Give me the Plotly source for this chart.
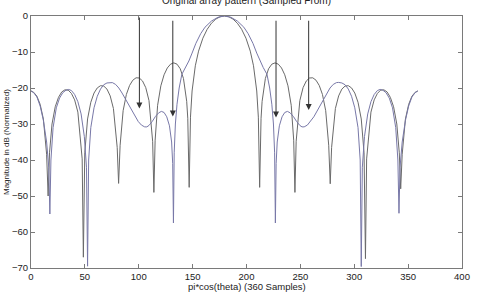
import plotly.graph_objects as go

# ---- data ----
A_x = [0, 2.5, 5.5, 8.5, 11.5, 14.5, 15.9, 17.2, 19.5, 22.5, 25.5, 28.5, 31.5, 34.5, 37.5, 40.5, 43.5,
       47.5, 48.6, 49.9, 52.5, 55.5, 58.5, 61.5, 64.5, 67.5, 70.5, 73.5, 76.5, 80, 81.3, 82.7, 85.5,
       88.5, 91.5, 94.5, 97.5, 100.5, 103.5, 106.5, 109.5, 112.9, 114.05, 115.2, 117.5, 120.5, 123.5,
       126.5, 129.5, 132.5, 135.5, 138.5, 141.5, 144.5, 145.5, 146.8, 148, 149.5, 152.5, 155.5, 159.5,
       163.5, 167.5, 171.5, 175.5, 179.5,
       183.5, 187.5, 191.5, 195.5, 199.5, 203.5, 206.5, 209.5, 211, 212.2, 213.5, 214.5, 217.5, 220.5,
       223.5, 226.5, 229.5, 232.5, 235.5, 238.5, 241.5, 243.8, 244.95, 246.1, 249.5, 252.5, 255.5,
       258.5, 261.5, 264.5, 267.5, 270.5, 273.5, 276.3, 277.7, 279, 282.5, 285.5, 288.5, 291.5, 294.5,
       297.5, 300.5, 303.5, 306.5, 309.1, 310.4, 311.5, 315.5, 318.5, 321.5, 324.5, 327.5, 330.5,
       333.5, 336.5, 339.5, 341.8, 343.1, 344.5, 347.5, 350.5, 353.5, 356.5, 359]
A_db = [-20.83, -21.2, -22.3, -24.55, -28.6, -38.4, -50, -38, -30.0, -25.2, -22.6, -21.1, -20.5, -20.6,
        -21.5, -23.3, -26.7, -39.7, -67, -38, -28.6, -23.96, -21.4, -19.98, -19.36, -19.46, -20.3,
        -22.2, -25.7, -36.5, -46.5, -35.9, -26.3, -21.8, -19.29, -17.83, -17.17, -17.22, -18.05, -19.9,
        -23.5, -34.8, -49, -34.5, -24.8, -19.4, -16.33, -14.44, -13.38, -13.02, -13.38, -14.65, -17.37,
        -23.7, -28.4, -47.6, -28.1, -20.83, -13.83, -9.76, -6.16, -3.70, -2.0, -0.86, -0.21, 0,
        -0.21, -0.86, -2.0, -3.7, -6.16, -9.76, -13.83, -20.83, -28.1, -47.6, -28.4, -23.7, -17.37,
        -14.65, -13.38, -13.02, -13.38, -14.44, -16.33, -19.4, -24.8, -34.5, -49, -34.8, -23.5, -19.9,
        -18.05, -17.22, -17.17, -17.83, -19.29, -21.8, -26.3, -35.9, -46.6, -36.5, -25.7, -22.2, -20.3,
        -19.46, -19.36, -19.98, -21.4, -23.96, -28.6, -38, -67.4, -39.7, -26.7, -23.3, -21.5, -20.6,
        -20.5, -21.1, -22.6, -25.2, -30.0, -38, -48, -38.4, -28.6, -24.55, -22.3, -21.2, -20.83]

B_x = [0, 2.5, 5.5, 8.5, 11.5, 14.5, 16.5, 17.5, 18.5, 20.5, 23.5, 26.5, 29.5, 32.5, 35, 37.5, 40.5,
       43.5, 46.5, 49.5, 51.5, 52.5, 53.5, 55.5, 58.5, 61.5, 64.5, 67.5, 70.5, 73.5, 75.5, 78.5, 81.5,
       84.5, 87.5, 90.5, 93.5, 96.5, 99.5, 102.5, 105.5, 107.5, 109.5, 112.5, 115.5, 118.5, 121, 123.5,
       126, 128.5, 130.5, 131.5, 132.2, 132.9, 134, 135.5, 137.5, 140, 143.5, 146.5, 149.5, 153, 157.5,
       161.5, 167.5, 173.5, 179.5,
       185.5, 191.5, 197.5, 201.5, 206, 209.5, 212.5, 215.5, 219, 221.5, 223.5, 225, 226.1, 226.8,
       227.5, 228.5, 230.5, 233, 235.5, 238, 240.5, 243.5, 246.5, 249.5, 251.5, 253.5, 256.5, 259.5,
       262.5, 265.5, 268.5, 271.5, 274.5, 277.5, 280.5, 283.5, 285.5, 288.5, 291.5, 294.5, 297.5,
       300.5, 303.5, 305.5, 306.5, 307.5, 309.5, 312.5, 315.5, 318.5, 321.5, 324, 326.5, 329.5, 332.5,
       335.5, 338.5, 340.5, 341.5, 342.5, 344.5, 347.5, 350.5, 353.5, 356.5, 359]
B_db = [-20.8, -21.3, -22.5, -25.0, -29.0, -35.0, -42.0, -55.0, -40.0, -31.0, -25.5, -22.8, -21.3,
        -20.6, -20.4, -20.7, -21.8, -23.8, -27.2, -33.5, -42.0, -69.5, -40.0, -31.0, -25.5, -22.3,
        -20.3, -19.1, -18.6, -18.45, -18.5, -19.0, -20.0, -21.4, -23.0, -24.7, -26.4, -28.0, -29.3,
        -30.3, -30.8, -30.8, -30.4, -29.3, -27.9, -26.9, -26.5, -26.8, -28.0, -30.5, -35.0, -41.0,
        -57.5, -38.0, -30.0, -24.5, -20.0, -16.2, -14.3, -12.5, -10.3, -7.6, -4.9, -3.1, -1.4, -0.35, 0,
        -0.35, -1.4, -3.1, -4.9, -7.6, -10.3, -12.5, -14.3, -16.2, -20.0, -24.5, -30.0, -38.0, -57.5,
        -41.0, -35.0, -30.5, -28.0, -26.8, -26.5, -26.9, -27.9, -29.3, -30.4, -30.8, -30.8, -30.3,
        -29.3, -28.0, -26.4, -24.7, -23.0, -21.4, -20.0, -19.0, -18.5, -18.45, -18.6, -19.1, -20.3,
        -22.3, -25.5, -31.0, -40.0, -69.6, -42.0, -33.5, -27.2, -23.8, -21.8, -20.7, -20.4, -20.6,
        -21.3, -22.8, -25.5, -31.0, -40.0, -54.8, -42.0, -35.0, -29.0, -25.0, -22.5, -21.3, -20.8]

arrow_x = [100.6, 131.6, 227.4, 257.7]
arrow_top = [0.0, -0.9, -0.9, -0.9]
arrow_tip = [-25.7, -27.9, -28.2, -26.1]

x_ticks = [0, 50, 100, 150, 200, 250, 300, 350, 400]
y_ticks = [-70, -60, -50, -40, -30, -20, -10, 0]

title_text = "Original array pattern (Sampled From)"
x_title = "pi*cos(theta) (360 Samples)"
y_title = "Magnitude in dB (Normalized)"

FONT = "Liberation Sans, Arial, sans-serif"

fig = go.Figure()
fig.add_trace(go.Scatter(x=A_x, y=A_db, mode="lines",
                         line=dict(color="#6a6a6a", width=1), showlegend=False))
fig.add_trace(go.Scatter(x=B_x, y=B_db, mode="lines",
                         line=dict(color="#7878a8", width=1), showlegend=False))

annotations = []
for ax_, top, tip in zip(arrow_x, arrow_top, arrow_tip):
    annotations.append(dict(x=ax_, y=tip, ax=ax_, ay=top, xref="x", yref="y",
                            axref="x", ayref="y", text="", showarrow=True,
                            arrowhead=2, arrowsize=1.2, arrowwidth=1,
                            arrowcolor="#333333"))
annotations.append(dict(text=x_title, xref="paper", yref="paper", x=0.5, y=0,
                        xanchor="center", yanchor="middle", yshift=-18, showarrow=False,
                        font=dict(family=FONT, size=9.5, color="#222222")))
annotations.append(dict(text=y_title, xref="paper", yref="paper", x=0, y=0.5,
                        xanchor="center", yanchor="middle", xshift=-25, textangle=-90,
                        showarrow=False,
                        font=dict(family=FONT, size=8, color="#222222")))

axis_common = dict(showline=True, linecolor="#7a7a7a", linewidth=1, mirror="ticks",
                   ticks="inside", ticklen=4, tickcolor="#7a7a7a", showgrid=False,
                   zeroline=False, tickfont=dict(family=FONT, size=9.5, color="#222222"))

fig.update_layout(
    width=480, height=292,
    margin=dict(l=31, r=11, t=10, b=23),
    paper_bgcolor="white", plot_bgcolor="white",
    title=dict(text=title_text, x=0.5, xref="paper", xanchor="center",
               y=1.0, yref="container", yanchor="middle",
               font=dict(family=FONT, size=10, color="#222222")),
    xaxis=dict(range=[0, 400], tickvals=x_ticks, **axis_common),
    yaxis=dict(range=[-70, 0], tickvals=y_ticks, **axis_common),
    annotations=annotations,
    showlegend=False,
)

fig.write_html("out.html")
